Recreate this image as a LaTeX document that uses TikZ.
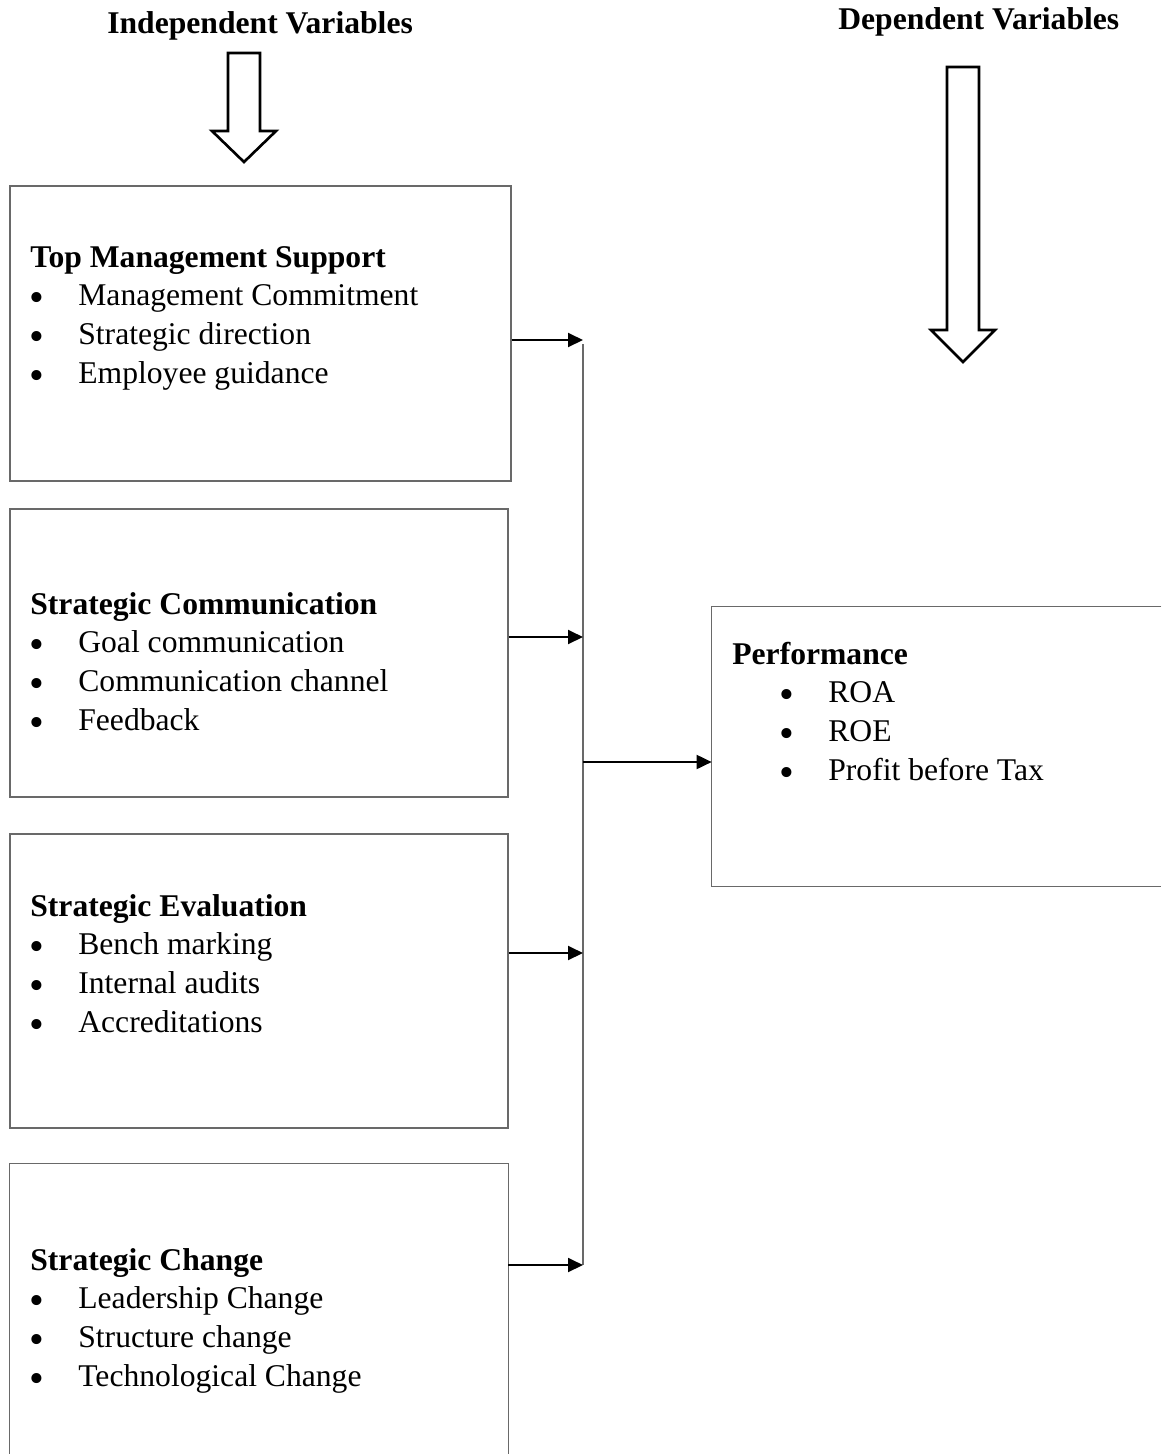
\documentclass[tikz,border=0pt]{standalone}
\usepackage{fontspec}
\setmainfont{Liberation Serif}
\usepackage{tikz}
\usetikzlibrary{arrows.meta, fit}
\tikzstyle{diagram} = [x = 0.02cm, y = -0.02cm]
\definecolor{frameColor}{RGB}{105,105,105}
\tikzstyle{frameLine} = [color=frameColor, line width=0.8pt]
\tikzstyle{factorBox} = [inner sep=0pt, draw=frameColor, line width=0.8pt]
\tikzstyle{openBox} = [inner sep=0pt]
\tikzstyle{busLine} = [color=frameColor, line width=0.8pt]
\tikzstyle{link} = [color=black, line width=1.1pt, -{Triangle[length=0.3cm, width=0.28cm]}]
\tikzstyle{blockArrow} = [color=black, line width=1.5pt, fill=white, line join=miter]
\tikzstyle{titleText} = [font=\fontsize{18}{22}\selectfont\bfseries, anchor=base west, inner sep=0pt]
\tikzstyle{headText} = [font=\fontsize{18}{22}\selectfont\bfseries, anchor=base west, inner sep=0pt]
\tikzstyle{itemText} = [font=\fontsize{18}{22}\selectfont, anchor=base west, inner sep=0pt]
\tikzstyle{bulletMark} = [font=\fontsize{24}{24}\selectfont, anchor=base, inner sep=0pt]
\newcommand{\itemGap}{38.8}
% #1 centre x, #2 top, #3 head base, #4 tip
\newcommand{\downArrow}[4]{\draw [blockArrow] (#1 - 16, #2) -- (#1 + 16, #2) -- (#1 + 16, #3) -- (#1 + 32, #3) -- (#1, #4) -- (#1 - 32, #3) -- (#1 - 16, #3) -- cycle;}
% #1 name, #2 head x, #3 head baseline, #4 bullet centre x, #5 text x, #6 heading, #7 items
\newcommand{\factorText}[7]{
  \node [headText] (#1Head) at (#2, #3) {#6};
  \foreach \itemLabel [count=\i] in {#7} {
    \node [bulletMark] (#1Dot\i) at (#4, #3 + \itemGap * \i + 6) {\textbullet};
    \node [itemText] (#1Item\i) at (#5, #3 + \itemGap * \i) {\itemLabel};
  }
}
\begin{document}
\begin{tikzpicture}[diagram]
  \useasboundingbox (0,0) rectangle (1161,1454);
  % titles and block arrows
  \node [titleText] (indepTitle) at (107,33) {Independent Variables};
  \node [titleText] (depTitle) at (838,29) {Dependent Variables};
  \downArrow{244}{53}{131}{162}
  \downArrow{963}{67}{330}{362}
  % boxes
  \node [factorBox, fit={(10,186) (511,481)}] (topBox) {};
  \node [factorBox, fit={(10,509) (508,797)}] (commBox) {};
  \node [factorBox, fit={(10,834) (508,1128)}] (evalBox) {};
  \node [openBox, fit={(10,1164) (508,1454)}] (changeBox) {};
  \draw [frameLine] (changeBox.south west) -- (changeBox.north west) -- (changeBox.north east) -- (changeBox.south east);
  \node [openBox, fit={(712,607) (1161,886)}] (perfBox) {};
  \draw [frameLine] (perfBox.north east) -- (perfBox.north west) -- (perfBox.south west) -- (perfBox.south east);
  % texts
  \factorText{top}{30}{267}{37}{78}{Top Management Support}{Management Commitment, Strategic direction, Employee guidance}
  \factorText{comm}{30}{614}{37}{78}{Strategic Communication}{Goal communication, Communication channel, Feedback}
  \factorText{eval}{30}{916}{37}{78}{Strategic Evaluation}{Bench marking, Internal audits, Accreditations}
  \factorText{change}{30}{1270}{37}{78}{Strategic Change}{Leadership Change, Structure change, Technological Change}
  \factorText{perf}{732}{664}{787}{828}{Performance}{ROA, ROE, Profit before Tax}
  % connectors
  \coordinate (busTop) at (583,344);
  \coordinate (busBottom) at (583,1265);
  \coordinate (busIn1) at (583,340);
  \coordinate (busIn2) at (583,637);
  \coordinate (busIn3) at (583,953);
  \coordinate (busIn4) at (583,1265);
  \coordinate (busOut) at (583,762);
  \draw [busLine] (busTop) -- (busBottom);
  \draw [link] (busIn1 -| topBox.east) -- (busIn1);
  \draw [link] (busIn2 -| commBox.east) -- (busIn2);
  \draw [link] (busIn3 -| evalBox.east) -- (busIn3);
  \draw [link] (busIn4 -| changeBox.east) -- (busIn4);
  \draw [link] (busOut) -- (busOut -| perfBox.west);
\end{tikzpicture}
\end{document}
